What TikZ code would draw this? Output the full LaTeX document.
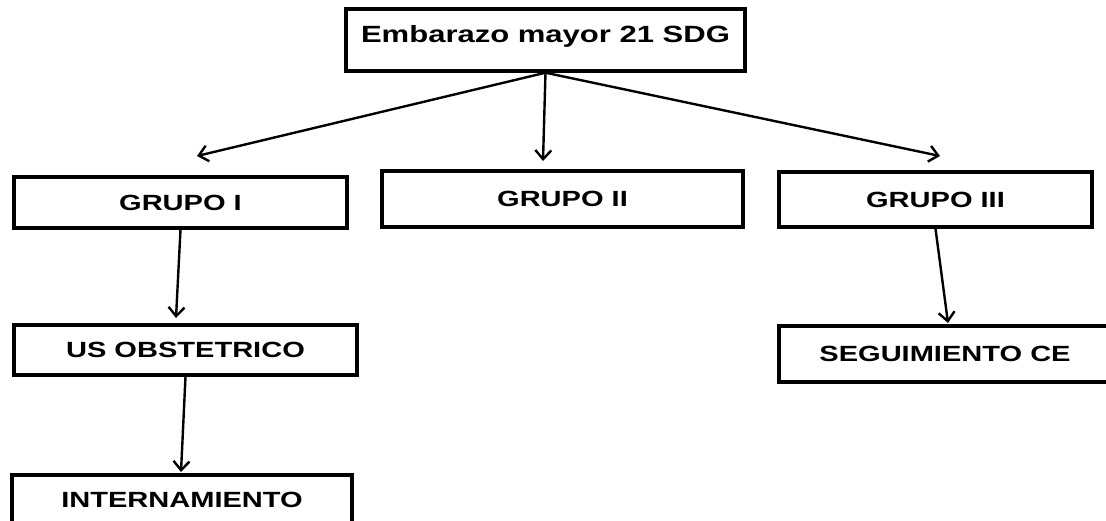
\documentclass[tikz,border=0pt]{standalone}
\usepackage{fontspec}
\setmainfont{Liberation Sans}[FakeStretch=1.32]
\usetikzlibrary{arrows.meta,positioning}
\tikzset{
  box/.style={rectangle, draw=black, line width=3.4pt,
    minimum width=#1, minimum height=52pt, inner sep=0pt,
    font=\fontsize{22}{24}\selectfont\bfseries, align=center},
  box/.default=330pt,
  arr/.style={-{Straight Barb[length=9pt,width=16pt]}, line width=2.4pt, color=#1},
  arr/.default=black
}
\begin{document}
\begin{tikzpicture}[x=1pt, y=-1pt]
    \useasboundingbox (0,0) rectangle (1106,520);

    \node[box=399pt, minimum height=62pt, text depth=12pt,
          font=\fontsize{23.5}{25}\selectfont\bfseries] (emb) at (545.5,40) {Embarazo mayor 21 SDG};
    \node[box=333pt, minimum height=51pt] (g1)  at (180.5,202.5) {GRUPO I};
    \node[box=361pt, minimum height=56pt] (g2)  at (562.5,199)   {GRUPO II};
    \node[box=313pt, minimum height=55pt] (g3)  at (935.5,199.5) {GRUPO III};
    \node[box=343pt, minimum height=50pt] (us)  at (185.5,350)   {US OBSTETRICO};
    \node[box=340pt, minimum height=50pt] (int) at (182,500)     {INTERNAMIENTO};
    \node[box=332pt, minimum height=56pt] (seg) at (945,354)     {SEGUIMIENTO CE};

    % free ends of the arrows
    \coordinate (e1) at (197,156);
    \coordinate (e2) at (543,161);
    \coordinate (e3) at (940,156);
    \coordinate (e4) at (176,318);
    \coordinate (e5) at (181,472);
    \coordinate (e6) at (948,323);

    \draw[arr] (emb.south) -- (e1);
    \draw[arr] (emb.south) -- (e2);
    \draw[arr] (emb.south) -- (e3);
    \draw[arr] (g1.south)  -- (e4);
    \draw[arr] (us.south)  -- (e5);
    \draw[arr] (g3.south)  -- (e6);
  \end{tikzpicture}
\end{document}
